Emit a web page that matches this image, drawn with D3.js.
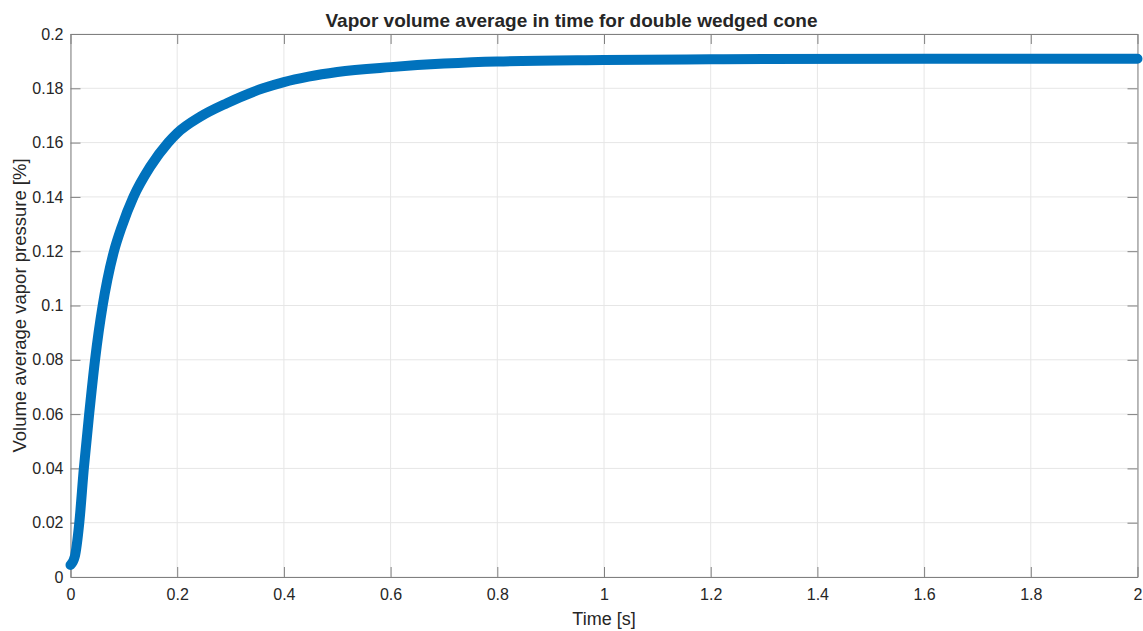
<!DOCTYPE html>
<html>
<head>
<meta charset="utf-8">
<script src="https://cdn.jsdelivr.net/npm/d3@7"></script>
<style>
  body { margin: 0; background: #fff; }
  svg text { font-family: "Liberation Sans", Arial, sans-serif; fill: #262626; }
</style>
</head>
<body>
<div id="chart"></div>
<script>
// values
const timeValues = [0, 0.008, 0.0165, 0.025, 0.035, 0.046, 0.0603, 0.069, 0.0815, 0.096, 0.118, 0.149,
  0.183, 0.2, 0.243, 0.293, 0.361, 0.4, 0.446, 0.5, 0.6, 0.7, 0.8, 1.0, 1.2, 1.6, 2.0];
const vaporValues = [0.0044, 0.0075, 0.02, 0.04, 0.06, 0.08, 0.1, 0.1094, 0.12, 0.129, 0.14, 0.151,
  0.16, 0.1635, 0.1695, 0.1745, 0.18, 0.1823, 0.1843, 0.186, 0.1878, 0.1891, 0.1899, 0.1904, 0.1907, 0.1909, 0.1909];
const xTicks = [0, 0.2, 0.4, 0.6, 0.8, 1, 1.2, 1.4, 1.6, 1.8, 2];
const yTicks = [0, 0.02, 0.04, 0.06, 0.08, 0.1, 0.12, 0.14, 0.16, 0.18, 0.2];

const W = 1143, H = 631;
const margin = { top: 34, right: 5.5, bottom: 54, left: 70.5 };
const width = W - margin.left - margin.right,
      height = H - margin.top - margin.bottom;

const svg = d3.select("#chart").append("svg")
  .attr("width", W)
  .attr("height", H);

const g = svg.append("g")
  .attr("transform", "translate(" + margin.left + "," + margin.top + ")");

const x = d3.scaleLinear().domain([0, 2]).range([0, width]);
const y = d3.scaleLinear().domain([0, 0.2]).range([height, 0]);

// grid
g.append("g").selectAll("line")
  .data(xTicks).enter().append("line")
  .attr("x1", d => x(d)).attr("x2", d => x(d))
  .attr("y1", 0).attr("y2", height)
  .attr("stroke", "#e6e6e6").attr("stroke-width", 1);
g.append("g").selectAll("line")
  .data(yTicks).enter().append("line")
  .attr("y1", d => y(d)).attr("y2", d => y(d))
  .attr("x1", 0).attr("x2", width)
  .attr("stroke", "#e6e6e6").attr("stroke-width", 1);

// axes (ticks pointing inside)
const fmt = d => d3.format("~g")(d);
const xAxis = g.append("g")
  .attr("transform", "translate(0," + height + ")")
  .call(d3.axisBottom(x).tickValues(xTicks).tickFormat(fmt).tickSizeInner(-10).tickSizeOuter(0).tickPadding(12));
const xTop = g.append("g")
  .call(d3.axisTop(x).tickValues(xTicks).tickFormat("").tickSizeInner(-10).tickSizeOuter(0));
const yAxis = g.append("g")
  .call(d3.axisLeft(y).tickValues(yTicks).tickFormat(fmt).tickSizeInner(-10).tickSizeOuter(0).tickPadding(7));
const yRight = g.append("g")
  .attr("transform", "translate(" + width + ",0)")
  .call(d3.axisRight(y).tickValues(yTicks).tickFormat("").tickSizeInner(-10).tickSizeOuter(0));

[xAxis, xTop, yAxis, yRight].forEach(a => {
  a.select(".domain").attr("stroke", "#808080");
  a.selectAll(".tick line").attr("stroke", "#808080");
  a.selectAll(".tick text").style("font-size", "16px").attr("fill", "#262626");
});

// curve
const line = d3.line()
  .x((d, i) => x(timeValues[i]))
  .y(d => y(d))
  .curve(d3.curveMonotoneX);

g.append("path")
  .datum(vaporValues)
  .attr("fill", "none")
  .attr("stroke", "#0072BD")
  .attr("stroke-width", 10)
  .attr("stroke-linecap", "round")
  .attr("stroke-linejoin", "round")
  .attr("d", line);

// labels
svg.append("text")
  .attr("x", W / 2).attr("y", 27)
  .attr("text-anchor", "middle")
  .style("font-size", "19px").style("font-weight", "bold")
  .attr("fill", "#000")
  .text("Vapor volume average in time for double wedged cone");

svg.append("text")
  .attr("x", margin.left + width / 2).attr("y", 625)
  .attr("text-anchor", "middle")
  .style("font-size", "18px")
  .text("Time [s]");

svg.append("text")
  .attr("transform", "translate(26," + (margin.top + height / 2) + ") rotate(-90)")
  .attr("text-anchor", "middle")
  .style("font-size", "18.5px")
  .text("Volume average vapor pressure [%]");
</script>
</body>
</html>
